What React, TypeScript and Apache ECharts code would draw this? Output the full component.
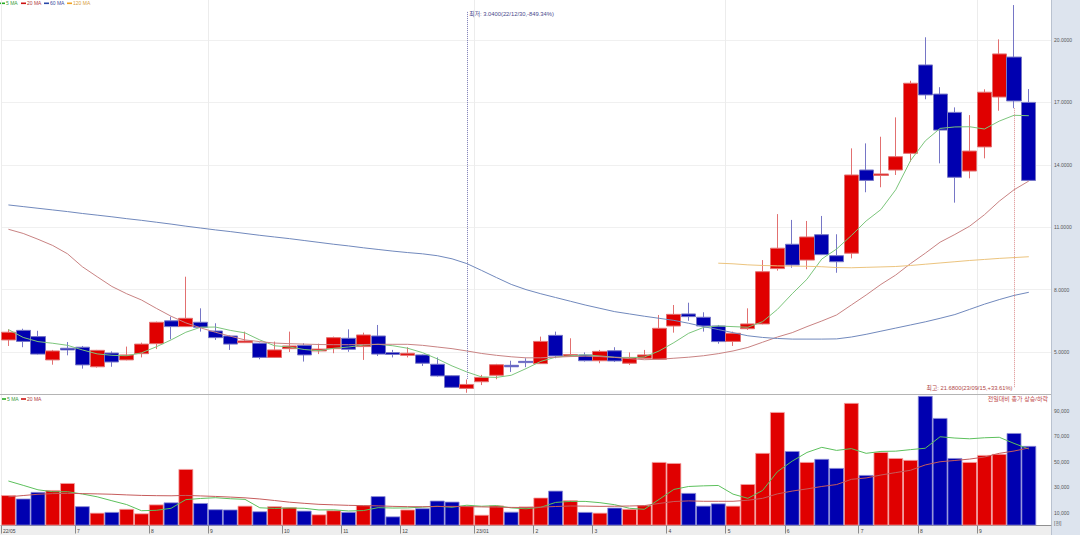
import React, { useEffect, useRef } from 'react';
import * as echarts from 'echarts';

// ---------- data ----------
const dates = [
  '22/05/27', '22/06/03', '22/06/10', '22/06/17', '22/06/24', '22/07/01', '22/07/08', '22/07/15', '22/07/22', '22/07/29',
  '22/08/05', '22/08/12', '22/08/19', '22/08/26', '22/09/02', '22/09/09', '22/09/16', '22/09/23', '22/09/30', '22/10/07',
  '22/10/14', '22/10/21', '22/10/28', '22/11/04', '22/11/11', '22/11/18', '22/11/25', '22/12/02', '22/12/09', '22/12/16',
  '22/12/23', '22/12/30', '23/01/06', '23/01/13', '23/01/20', '23/01/27', '23/02/03', '23/02/10', '23/02/17', '23/02/24',
  '23/03/03', '23/03/10', '23/03/17', '23/03/24', '23/03/31', '23/04/07', '23/04/14', '23/04/21', '23/04/28', '23/05/05',
  '23/05/12', '23/05/19', '23/05/26', '23/06/02', '23/06/09', '23/06/16', '23/06/23', '23/06/30', '23/07/07', '23/07/14',
  '23/07/21', '23/07/28', '23/08/04', '23/08/11', '23/08/18', '23/08/25', '23/09/01', '23/09/08', '23/09/15', '23/09/22',
];

const openP = [
  5.58, 6.04, 5.74, 4.62, 5.18, 5.23, 4.29, 4.95, 4.62, 4.92,
  5.40, 6.50, 6.22, 6.43, 6.01, 5.77, 5.45, 5.42, 4.74, 5.16,
  5.32, 5.05, 5.16, 5.66, 5.26, 5.77, 4.97, 4.84, 4.86, 4.41,
  3.86, 3.25, 3.57, 3.88, 4.36, 4.55, 4.44, 5.80, 4.80, 4.86,
  4.58, 5.06, 4.46, 4.70, 4.65, 6.25, 6.83, 6.67, 6.25, 5.51,
  6.12, 6.35, 9.01, 10.18, 9.42, 10.64, 9.63, 9.75, 13.75, 13.49,
  13.75, 14.55, 18.80, 17.40, 16.52, 13.70, 14.86, 17.26, 19.18, 17.00,
];
const closeP = [
  5.95, 5.51, 4.90, 5.05, 5.10, 4.38, 5.08, 4.52, 4.86, 5.38,
  6.43, 6.22, 6.62, 6.19, 5.69, 5.38, 5.53, 4.74, 5.10, 5.29,
  4.86, 5.14, 5.69, 5.13, 5.82, 4.90, 4.88, 4.94, 4.46, 3.85,
  3.30, 3.44, 3.78, 4.39, 4.29, 4.49, 5.51, 4.81, 4.88, 4.58,
  5.03, 4.57, 4.74, 4.86, 6.14, 6.81, 6.70, 6.25, 5.50, 5.90,
  6.35, 8.86, 9.99, 9.18, 10.53, 9.68, 9.34, 13.51, 13.25, 13.56,
  14.39, 17.92, 17.36, 15.67, 13.40, 14.66, 17.49, 19.33, 17.07, 13.25,
];
const lowP = [
  5.29, 5.23, 4.88, 4.39, 4.84, 4.20, 4.25, 4.29, 4.60, 4.74,
  5.14, 5.61, 6.20, 5.98, 5.58, 5.10, 5.43, 4.65, 4.72, 5.00,
  4.54, 4.90, 4.94, 5.01, 4.62, 4.81, 4.74, 4.74, 4.33, 3.82,
  3.28, 3.04, 3.41, 3.69, 4.04, 4.27, 4.42, 4.70, 4.76, 4.54,
  4.46, 4.52, 4.38, 4.68, 4.62, 5.93, 6.50, 5.98, 5.40, 5.29,
  6.06, 6.33, 8.91, 9.05, 8.98, 9.66, 8.81, 9.50, 12.68, 12.92,
  13.51, 14.15, 17.15, 14.07, 12.18, 13.35, 14.31, 16.60, 16.72, 13.22,
];
const highP = [
  6.09, 6.12, 6.02, 5.10, 5.48, 5.29, 5.10, 5.03, 5.26, 5.45,
  6.46, 6.70, 8.62, 7.10, 6.38, 5.80, 5.98, 5.45, 5.50, 5.98,
  5.42, 5.40, 5.74, 6.09, 5.93, 6.30, 5.10, 5.23, 4.88, 4.74,
  3.88, 3.68, 3.90, 4.43, 4.58, 4.70, 5.74, 5.98, 5.66, 4.98,
  5.10, 5.23, 4.98, 5.10, 6.78, 7.26, 7.37, 6.91, 6.30, 5.98,
  7.10, 9.42, 11.63, 11.35, 11.30, 11.54, 10.66, 14.79, 15.03, 15.35,
  16.28, 18.04, 20.13, 17.73, 16.76, 16.39, 17.63, 20.03, 21.68, 17.64,
];

const ma5 = [
  6.08, 5.70, 5.50, 5.42, 5.32, 5.10, 4.91, 4.84, 4.82, 4.96,
  5.25, 5.58, 5.95, 6.19, 6.20, 6.04, 5.92, 5.58, 5.30, 5.24,
  5.12, 5.06, 5.18, 5.24, 5.33, 5.37, 5.30, 5.18, 4.97, 4.67,
  4.33, 4.04, 3.80, 3.78, 3.88, 4.20, 4.55, 4.75, 4.82, 4.86,
  4.81, 4.75, 4.72, 4.76, 5.05, 5.45, 5.90, 6.18, 6.25, 6.22,
  6.19, 6.46, 7.05, 7.80, 8.50, 9.47, 9.95, 10.60, 11.30, 11.85,
  12.80, 14.20, 15.15, 15.75, 15.82, 15.83, 15.72, 16.10, 16.38, 16.36,
];
const ma20 = [
  10.90, 10.70, 10.42, 10.12, 9.72, 9.10, 8.62, 8.15, 7.80, 7.50,
  7.10, 6.72, 6.40, 6.16, 5.95, 5.76, 5.58, 5.50, 5.43, 5.40,
  5.38, 5.36, 5.35, 5.35, 5.36, 5.37, 5.37, 5.37, 5.32, 5.24,
  5.16, 5.05, 4.93, 4.84, 4.77, 4.72, 4.72, 4.75, 4.78, 4.80,
  4.78, 4.74, 4.68, 4.63, 4.65, 4.70, 4.75, 4.82, 4.92, 5.05,
  5.22, 5.47, 5.72, 5.93, 6.22, 6.49, 6.78, 7.26, 7.74, 8.25,
  8.70, 9.25, 9.75, 10.28, 10.65, 11.05, 11.60, 12.25, 12.80, 13.22,
];
const ma60 = [
  12.07, 11.99, 11.91, 11.83, 11.75, 11.66, 11.58, 11.50, 11.41, 11.33,
  11.24, 11.15, 11.05, 10.96, 10.87, 10.79, 10.70, 10.61, 10.53, 10.45,
  10.36, 10.27, 10.18, 10.10, 10.01, 9.93, 9.85, 9.78, 9.72, 9.63,
  9.48, 9.25, 8.92, 8.58, 8.25, 8.00, 7.80, 7.62, 7.44, 7.26,
  7.10, 6.94, 6.83, 6.72, 6.62, 6.52, 6.38, 6.22, 6.08, 5.93,
  5.78, 5.70, 5.65, 5.62, 5.62, 5.62, 5.63, 5.72, 5.85, 6.00,
  6.15, 6.30, 6.45, 6.62, 6.80, 7.05, 7.30, 7.52, 7.72, 7.87,
];
const ma120 = [
  null, null, null, null, null, null, null, null, null, null,
  null, null, null, null, null, null, null, null, null, null,
  null, null, null, null, null, null, null, null, null, null,
  null, null, null, null, null, null, null, null, null, null,
  null, null, null, null, null, null, null, null, 9.27, 9.24,
  9.19, 9.16, 9.14, 9.13, 9.12, 9.10, 9.06, 9.05, 9.07, 9.09,
  9.11, 9.16, 9.22, 9.28, 9.34, 9.40, 9.45, 9.50, 9.54, 9.58,
];

// volume in thousands of shares ([천])
const volume = [
  23800, 21100, 26300, 27800, 33300, 15100, 10000, 10600, 13000, 9500,
  16500, 18100, 44300, 17600, 12700, 12500, 15500, 11100, 15100, 14400,
  11600, 8700, 11900, 10600, 15900, 23000, 7100, 12500, 13500, 19500,
  18700, 15500, 8400, 15700, 10800, 14900, 21900, 27300, 19800, 10600,
  10000, 14000, 13000, 15900, 49800, 49000, 25500, 15500, 17300, 15500,
  32500, 56900, 89000, 58400, 49800, 52200, 45100, 96100, 39600, 57600,
  52900, 51400, 101600, 84300, 52900, 49800, 55300, 56100, 72500, 62400,
];
const volMa5 = [
  34900, 31500, 28000, 26500, 26500, 24700, 22500, 19400, 16400, 11600,
  11900, 13500, 20300, 21200, 21800, 21000, 20500, 13900, 13400, 13700,
  13500, 12200, 12300, 11400, 11700, 14000, 13700, 13800, 14400, 15100,
  14300, 15900, 15100, 15600, 13800, 13100, 14300, 18100, 18900, 18900,
  17900, 16300, 13500, 12700, 20500, 28300, 30600, 31100, 31400, 24600,
  21300, 27500, 42200, 50500, 57300, 61300, 58900, 60300, 56600, 58100,
  58300, 59500, 60600, 69600, 68600, 68000, 68800, 69200, 64400, 60000,
];
const volMa20 = [
  22500, 23500, 24500, 25000, 25200, 25000, 24800, 24500, 24000, 23600,
  23400, 23300, 23600, 23200, 22800, 22300, 21700, 20800, 19600, 18300,
  17400, 16600, 16200, 15800, 15600, 15400, 15000, 14800, 14700, 14900,
  15000, 14800, 14600, 14400, 14200, 14100, 14400, 14900, 15300, 15200,
  15000, 15100, 15300, 15600, 17300, 18800, 19300, 19000, 19000, 19000,
  19800, 21300, 24800, 27000, 28700, 30600, 32100, 36200, 37300, 39600,
  41500, 43300, 47500, 50000, 51000, 52100, 53700, 56600, 58400, 60800,
];

const priceTicks = [5, 8, 11, 14, 17, 20];
const volumeTicks = [10000, 30000, 50000, 70000, 90000];
const monthTickIndex = [0, 5, 10, 14, 19, 23, 27, 32, 36, 40, 45, 49, 53, 58, 62, 66];
const monthTickText = ['22/05', '7', '8', '9', '10', '11', '12', '23/01', '2', '3', '4', '5', '6', '7', '8', '9'];
const gridMonthIndex = [0, 14, 32, 49, 66];

const lowIndex = 31;
const lowText = '최저: 3.0400(22/12/30,-849.34%)';
const highIndex = 68;
const highText = '최고: 21.6800(23/09/15,+33.61%)';
const volumeNote = '전일대비 종가 상승/하락';
const volumeUnit = '[천]';

// ---------- styles ----------
const FONT = '"Liberation Sans", "Noto Sans CJK KR", sans-serif';
const RED = '#e00000';
const BLUE = '#0000b0';
const C_MA5 = '#7cc67c';
const C_MA20 = '#c98383';
const C_MA60 = '#7189bd';
const C_MA120 = '#ecc47e';
const C_VMA5 = '#5cc05c';
const C_VMA20 = '#c65c5c';

function legendItems(items: { name: string; icon: string; text: string; x: number }[], y: number) {
  const els: any[] = [];
  items.forEach((it) => {
    els.push({ type: 'rect', shape: { x: it.x, y: y - 0.8, width: 5, height: 1.6 }, style: { fill: it.icon }, silent: true });
    els.push({
      type: 'text', x: it.x + 6, y,
      style: { text: it.name, fill: it.text, fontSize: 5, fontFamily: FONT, verticalAlign: 'middle', align: 'left' },
      silent: true,
    });
  });
  return els;
}

export default function App() {
  const ref = useRef<HTMLDivElement>(null);

  useEffect(() => {
    const chart = echarts.init(ref.current!, undefined, { renderer: 'svg' });

    const slots = [...dates, ''];
    const edgeKeys = Array.from({ length: slots.length + 1 }, (_, i) => 'e' + i);
    const edgeLabel = (idx: number) => {
      const k = monthTickIndex.indexOf(idx);
      return k >= 0 ? monthTickText[k] : '';
    };

    const candles = dates.map((_, i) => [openP[i], closeP[i], lowP[i], highP[i]]);
    const volBars = volume.map((v, i) => {
      const up = i === 0 ? true : closeP[i] >= closeP[i - 1];
      return {
        value: v,
        itemStyle: { color: up ? RED : BLUE, borderColor: up ? '#f3a6a6' : '#8d8dd6', borderWidth: 0.8 },
      };
    });

    const isTick = (arr: number[], v: number) => arr.some((t) => Math.abs(t - v) < 1e-6);

    const hiddenCat = (gridIndex: number) => ({
      type: 'category', gridIndex, data: slots, boundaryGap: true,
      axisLine: { show: false }, axisTick: { show: false }, axisLabel: { show: false }, splitLine: { show: false },
    });

    const option: any = {
      animation: false,
      backgroundColor: '#ffffff',
      textStyle: { fontFamily: FONT },
      grid: [
        { left: 1, right: 29, top: 0, height: 414.4 },
        { left: 1, right: 29, top: 395, height: 130.5 },
      ],
      xAxis: [
        hiddenCat(0),
        hiddenCat(1),
        {
          type: 'category', gridIndex: 0, data: edgeKeys, boundaryGap: false,
          axisLine: { show: false }, axisTick: { show: false }, axisLabel: { show: false },
          splitLine: { show: true, interval: (i: number) => gridMonthIndex.includes(i), lineStyle: { color: '#ececec', width: 1 } },
        },
        {
          type: 'category', gridIndex: 1, data: edgeKeys, boundaryGap: false, position: 'bottom',
          axisLine: { show: true, onZero: false, lineStyle: { color: '#909090', width: 1 } },
          axisTick: { show: true, interval: (i: number) => monthTickIndex.includes(i), length: 8, lineStyle: { color: '#8a8a8a' } },
          axisLabel: {
            show: true, interval: (i: number) => monthTickIndex.includes(i),
            formatter: (_v: string, i: number) => edgeLabel(i),
            align: 'left', margin: 2.5, fontSize: 5, color: '#444', padding: [0, 0, 0, 2],
          },
          splitLine: { show: true, interval: (i: number) => gridMonthIndex.includes(i), lineStyle: { color: '#ececec', width: 1 } },
        },
      ],
      yAxis: [
        {
          type: 'value', gridIndex: 0, position: 'right', min: 2, max: 21.923, interval: 3,
          axisLine: { show: false }, axisTick: { show: false },
          axisLabel: {
            show: true, margin: 3, fontSize: 5, color: '#555',
            formatter: (v: number) => (isTick(priceTicks, v) ? v.toFixed(4) : ''),
          },
          splitLine: { show: true, showMinLine: false, showMaxLine: false, lineStyle: { color: '#f0f0f0', width: 1 } },
        },
        {
          type: 'value', gridIndex: 1, position: 'right', min: 0, max: 102350, interval: 10000,
          axisLine: { show: false }, axisTick: { show: false },
          axisLabel: {
            show: true, margin: 3, fontSize: 5, color: '#555',
            formatter: (v: number) => (isTick(volumeTicks, v) ? v.toLocaleString('en-US') : ''),
          },
          splitLine: { show: false },
        },
      ],
      series: [
        {
          name: 'price', type: 'candlestick', xAxisIndex: 0, yAxisIndex: 0, data: candles,
          barWidth: '99%', z: 2,
          itemStyle: {
            color: RED, color0: BLUE, borderColor: '#e27070', borderColor0: '#7676c6', borderWidth: 1,
          },
          markLine: {
            silent: true, symbol: ['none', 'none'], label: { show: false },
            data: [
              [
                { coord: [lowIndex, 21.35], lineStyle: { color: '#7a7ab4', type: 'dotted', width: 1 } },
                { coord: [lowIndex, highP[lowIndex]] },
              ],
              [
                { coord: [highIndex, lowP[highIndex]], lineStyle: { color: '#dc8c8c', type: 'dotted', width: 1 } },
                { coord: [highIndex, 3.31] },
              ],
            ],
          },
          markPoint: {
            silent: true,
            data: [
              {
                coord: [lowIndex, 21.25], symbol: 'circle', symbolSize: 0,
                label: { show: true, position: 'right', distance: 2.5, formatter: lowText, fontSize: 5.8, color: '#4a4a8c', fontFamily: FONT },
              },
              {
                coord: [highIndex, 3.29], symbol: 'circle', symbolSize: 0,
                label: { show: true, position: 'left', distance: 1.5, formatter: highText, fontSize: 5.8, color: '#b04848', fontFamily: FONT },
              },
            ],
          },
        },
        { name: '5 MA', type: 'line', xAxisIndex: 0, yAxisIndex: 0, data: ma5, symbol: 'none', z: 3, lineStyle: { color: C_MA5, width: 1 } },
        { name: '20 MA', type: 'line', xAxisIndex: 0, yAxisIndex: 0, data: ma20, symbol: 'none', z: 3, lineStyle: { color: C_MA20, width: 1 } },
        { name: '60 MA', type: 'line', xAxisIndex: 0, yAxisIndex: 0, data: ma60, symbol: 'none', z: 3, lineStyle: { color: C_MA60, width: 1 } },
        { name: '120 MA', type: 'line', xAxisIndex: 0, yAxisIndex: 0, data: ma120, symbol: 'none', z: 3, lineStyle: { color: C_MA120, width: 1 } },
        {
          name: 'volume', type: 'bar', xAxisIndex: 1, yAxisIndex: 1, data: volBars,
          barCategoryGap: '0%', barWidth: '100%', z: 2,
        },
        { name: '5 MA ', type: 'line', xAxisIndex: 1, yAxisIndex: 1, data: volMa5, symbol: 'none', z: 3, lineStyle: { color: C_VMA5, width: 1 } },
        { name: '20 MA ', type: 'line', xAxisIndex: 1, yAxisIndex: 1, data: volMa20, symbol: 'none', z: 3, lineStyle: { color: C_VMA20, width: 1 } },
      ],
      graphic: {
        elements: [
          { type: 'rect', shape: { x: 1051, y: 0, width: 29, height: 535 }, style: { fill: '#dde4ee' }, z: -10, silent: true },
          { type: 'line', shape: { x1: 1051.5, y1: 0, x2: 1051.5, y2: 535 }, style: { stroke: '#b9c2d0', lineWidth: 1 }, z: -9, silent: true },
          { type: 'rect', shape: { x: 0, y: 525.5, width: 1051, height: 10 }, style: { fill: '#eeeeee' }, z: -10, silent: true },
          { type: 'line', shape: { x1: 0, y1: 394.5, x2: 1051, y2: 394.5 }, style: { stroke: '#b4b4b4', lineWidth: 1 }, z: 5, silent: true },
          ...legendItems([
            { name: '5 MA', icon: '#22aa22', text: '#3c9c3c', x: 0 },
            { name: '20 MA', icon: '#cc1111', text: '#b03c3c', x: 21 },
            { name: '60 MA', icon: '#2848a8', text: '#3c4c9c', x: 44 },
            { name: '120 MA', icon: '#f0a020', text: '#d8a040', x: 67 },
          ], 3.3),
          ...legendItems([
            { name: '5 MA', icon: '#22aa22', text: '#3c9c3c', x: 1 },
            { name: '20 MA', icon: '#cc1111', text: '#b03c3c', x: 21 },
          ], 399),
          {
            type: 'text', x: 1048, y: 399, silent: true, z: 5,
            style: { text: volumeNote, fill: '#c04848', fontSize: 6, fontFamily: FONT, align: 'right', verticalAlign: 'middle' },
          },
          {
            type: 'text', x: 1054, y: 523, silent: true, z: 5,
            style: { text: volumeUnit, fill: '#555', fontSize: 5, fontFamily: FONT, align: 'left', verticalAlign: 'middle' },
          },
        ],
      },
    };

    chart.setOption(option);
    return () => chart.dispose();
  }, []);

  return (
    <div
      ref={ref}
      style={{ position: 'fixed', left: 0, top: 0, width: 1080, height: 535, background: '#ffffff' }}
    />
  );
}
